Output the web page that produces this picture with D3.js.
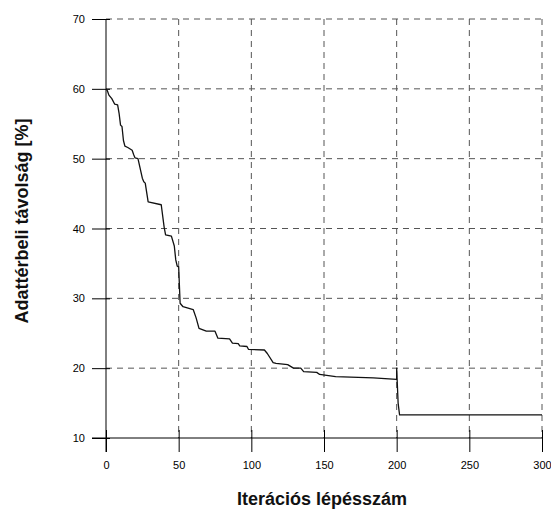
<!DOCTYPE html>
<html>
<head>
<meta charset="utf-8">
<script src="https://cdn.jsdelivr.net/npm/d3@7"></script>
<style>
  body { margin: 0; background: #fff; }
  svg { display: block; font-family: Arial, "Liberation Sans", sans-serif; }
</style>
</head>
<body>
<svg width="551" height="516"></svg>
<script>
// Iteration numbers and the distance value
const iterations = [0, 1, 2, 4, 6, 8, 9, 10, 11, 12, 13, 15, 18, 19, 20, 22, 25, 26, 27, 29, 38, 40, 41, 45, 47, 48, 49, 50, 51, 53, 60, 62, 64, 69, 75, 77, 85, 87, 91, 92, 97, 98, 109, 111, 115, 117, 125, 129, 134, 136, 145, 147, 158, 184, 200, 200, 201, 202, 300];
const distances = [60.0, 59.7, 59.1, 58.6, 57.8, 57.7, 56.5, 54.8, 54.6, 52.6, 51.8, 51.6, 51.2, 50.6, 50.1, 50.0, 47.2, 46.7, 46.5, 43.8, 43.4, 40.2, 39.1, 38.9, 37.5, 35.5, 34.6, 34.5, 29.3, 28.8, 28.4, 27.2, 25.7, 25.3, 25.3, 24.3, 24.2, 23.6, 23.5, 23.2, 23.1, 22.7, 22.6, 22.1, 20.8, 20.7, 20.5, 20.0, 20.0, 19.5, 19.4, 19.1, 18.8, 18.6, 18.4, 20.0, 15.0, 13.3, 13.3];

const xTicks = [0, 50, 100, 150, 200, 250, 300];
const yTicks = [10, 20, 30, 40, 50, 60, 70];

const xTitle = "Iterációs lépésszám";
const yTitle = "Adattérbeli távolság [%]";

const svg = d3.select("svg");

// plot box
const plotLeft = 106, plotRight = 542, plotTop = 19, plotBottom = 438;

const x = d3.scaleLinear().domain([0, 300]).range([plotLeft, plotRight]);
const y = d3.scaleLinear().domain([10, 70]).range([plotBottom, plotTop]);

// dashed grid
const grid = svg.append("g")
    .attr("stroke", "#555")
    .attr("stroke-width", 1)
    .attr("stroke-dasharray", "6,5")
    .attr("fill", "none");

grid.selectAll("line.h")
    .data(yTicks.filter(d => d > 10))
    .enter().append("line")
    .attr("class", "h")
    .attr("x1", plotLeft).attr("x2", plotRight)
    .attr("y1", d => y(d)).attr("y2", d => y(d));

grid.selectAll("line.v")
    .data(xTicks.filter(d => d > 0))
    .enter().append("line")
    .attr("class", "v")
    .attr("x1", d => x(d)).attr("x2", d => x(d))
    .attr("y1", plotTop).attr("y2", plotBottom);

// axes (ticks cross the axis line)
const yAxis = svg.append("g")
    .attr("transform", `translate(${plotLeft},0)`)
    .call(d3.axisLeft(y).tickValues(yTicks).tickSizeInner(14).tickSizeOuter(0).tickPadding(7));

const xAxis = svg.append("g")
    .attr("transform", `translate(0,${plotBottom})`)
    .call(d3.axisBottom(x).tickValues(xTicks).tickSizeInner(14).tickSizeOuter(0).tickPadding(9));

[yAxis, xAxis].forEach(a => {
    a.select(".domain").remove();
    a.selectAll("line").attr("stroke", "#000");
    a.selectAll("text")
        .attr("fill", "#000")
        .style("font-size", "11px")
        .style("font-family", "Arial, 'Liberation Sans', sans-serif");
});

// small inner part of the ticks
yAxis.selectAll(".tick line").attr("x2", -14).attr("x1", 4);
xAxis.selectAll(".tick line").attr("y1", -8).attr("y2", 14);

// axis lines extend past the origin
svg.append("line")
    .attr("x1", plotLeft).attr("x2", plotLeft)
    .attr("y1", plotTop).attr("y2", plotBottom + 14)
    .attr("stroke", "#000");
svg.append("line")
    .attr("x1", plotLeft - 14).attr("x2", plotRight)
    .attr("y1", plotBottom).attr("y2", plotBottom)
    .attr("stroke", "#000");

// the curve
const line = d3.line()
    .x((d, i) => x(iterations[i]))
    .y(d => y(d));

svg.append("path")
    .datum(distances)
    .attr("d", line)
    .attr("fill", "none")
    .attr("stroke", "#111")
    .attr("stroke-width", 1.3)
    .attr("stroke-linejoin", "round");

// axis titles
svg.append("text")
    .attr("x", 322).attr("y", 505)
    .attr("text-anchor", "middle")
    .style("font-size", "18px")
    .style("font-weight", "bold")
    .attr("fill", "#111")
    .text(xTitle);

svg.append("text")
    .attr("transform", "translate(21.5,221) rotate(-90)")
    .attr("dy", "0.35em")
    .attr("text-anchor", "middle")
    .style("font-size", "18px")
    .style("font-weight", "bold")
    .attr("fill", "#111")
    .text(yTitle);
</script>
</body>
</html>
